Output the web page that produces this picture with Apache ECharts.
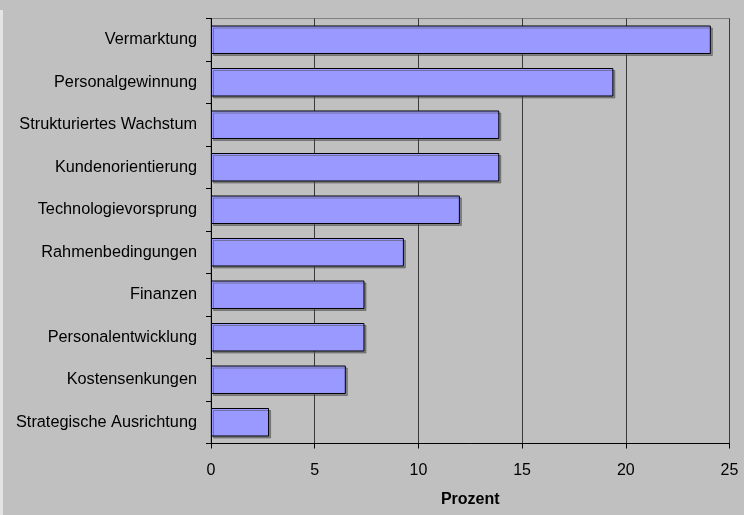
<!DOCTYPE html>
<html>
<head>
<meta charset="utf-8">
<style>
  html, body { margin: 0; padding: 0; background: #c0c0c0; }
  #chart { width: 744px; height: 515px; }
</style>
<script src="https://cdn.jsdelivr.net/npm/echarts@6/dist/echarts.min.js"></script>
</head>
<body>
<div id="chart"></div>
<script>
// Categories listed top to bottom
const categories = [
  'Vermarktung',
  'Personalgewinnung',
  'Strukturiertes Wachstum',
  'Kundenorientierung',
  'Technologievorsprung',
  'Rahmenbedingungen',
  'Finanzen',
  'Personalentwicklung',
  'Kostensenkungen',
  'Strategische Ausrichtung'
];
// Share in percent
const values = [24.1, 19.4, 13.9, 13.9, 12.0, 9.3, 7.4, 7.4, 6.5, 2.8];
const axisMin = 0;
const axisMax = 25;
const axisStep = 5;
const axisTitle = 'Prozent';

const FONT = "'Liberation Sans', Arial, sans-serif";

const chart = echarts.init(document.getElementById('chart'), null, { renderer: 'canvas' });
chart.setOption({
  backgroundColor: '#c0c0c0',
  animation: false,
  graphic: [{
    type: 'rect',
    left: 0, top: 10,
    shape: { width: 3, height: 505 },
    style: { fill: '#e4e4e4' },
    silent: true
  }],
  grid: {
    left: 211, top: 18.5, right: 14.5, bottom: 71.5,
    show: true,
    backgroundColor: 'transparent',
    borderColor: '#808080',
    borderWidth: 1
  },
  xAxis: {
    type: 'value',
    min: axisMin, max: axisMax, interval: axisStep,
    name: axisTitle,
    nameLocation: 'middle',
    nameGap: 48,
    nameTextStyle: { fontFamily: FONT, fontSize: 16, fontWeight: 'bold', color: '#000' },
    axisLine: { show: true, lineStyle: { color: '#000', width: 1 } },
    axisTick: { show: true, length: 5, lineStyle: { color: '#000' } },
    axisLabel: { fontFamily: FONT, fontSize: 16, color: '#000', margin: 19 },
    splitLine: { show: true, lineStyle: { color: '#3a3a3a', width: 1 } }
  },
  yAxis: {
    type: 'category',
    inverse: true,
    data: categories,
    axisLine: { show: true, lineStyle: { color: '#000', width: 1 } },
    axisTick: { show: true, length: 5, lineStyle: { color: '#000' } },
    axisLabel: { fontFamily: FONT, fontSize: 16.3, color: '#000', margin: 14 },
    splitLine: { show: false }
  },
  series: [{
    type: 'bar',
    data: values,
    barCategoryGap: '33%',
    itemStyle: {
      color: '#9999ff',
      borderColor: '#000',
      borderWidth: 1,
      shadowColor: 'rgba(80,80,80,0.55)',
      shadowOffsetX: 2,
      shadowOffsetY: 2,
      shadowBlur: 0
    },
    emphasis: { disabled: true }
  }]
});
</script>
</body>
</html>
